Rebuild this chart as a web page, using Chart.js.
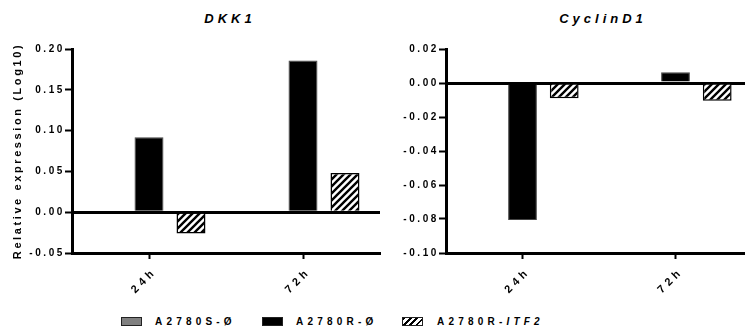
<!DOCTYPE html>
<html>
<head>
<meta charset="utf-8">
<script src="https://cdn.jsdelivr.net/npm/chart.js@4"></script>
<style>
html,body{margin:0;padding:0;width:745px;height:332px;overflow:hidden;background:#fff;}
body{position:relative;font-family:Arial,"Liberation Sans",sans-serif;}
canvas{position:absolute;top:0;}
.ttl{position:absolute;top:12px;width:200px;margin-left:-100px;text-align:center;font:italic bold 13px Arial,"Liberation Sans",sans-serif;line-height:13px;letter-spacing:4px;padding-left:4px;color:#000;}
.lg{position:absolute;top:317px;height:9px;width:21px;box-sizing:border-box;border:1px solid #222;}
.lt{position:absolute;top:316px;font:bold 10px Arial,"Liberation Sans",sans-serif;line-height:12px;letter-spacing:4.2px;color:#000;white-space:nowrap;}
</style>
</head>
<body>
<div class="ttl" id="t1" style="left:226px"></div>
<div class="ttl" id="t2" style="left:599px"></div>
<canvas id="c1" width="390" height="300" style="left:0px;width:390px;height:300px"></canvas>
<canvas id="c2" width="386" height="300" style="left:376px;width:386px;height:300px"></canvas>
<div id="legend"></div>
<script>
// ---- data ----
const categories = ['24h', '72h'];
const seriesNames = ['A2780S-Ø', 'A2780R-Ø', 'A2780R-ITF2'];
const panelTitles = ['DKK1', 'CyclinD1'];
const yAxisTitle = 'Relative expression (Log10)';

const dkk1_S    = [0, 0];
const dkk1_R    = [0.092, 0.186];
const dkk1_ITF2 = [-0.026, 0.048];

const ccnd1_S    = [0, 0];
const ccnd1_R    = [-0.0806, 0.0063];
const ccnd1_ITF2 = [-0.009, -0.0104];

const dkk1Ticks  = [-0.05, 0.00, 0.05, 0.10, 0.15, 0.20];
const ccnd1Ticks = [-0.10, -0.08, -0.06, -0.04, -0.02, 0.00, 0.02];

// ---- styles ----
const FONT = 'Arial, "Liberation Sans", sans-serif';
function hatchPattern() {
  const s = 7;
  const c = document.createElement('canvas');
  c.width = s; c.height = s;
  const g = c.getContext('2d');
  g.fillStyle = '#fff'; g.fillRect(0, 0, s, s);
  g.strokeStyle = '#000'; g.lineWidth = 2.4;
  g.beginPath();
  g.moveTo(-2, s + 2); g.lineTo(s + 2, -2);
  g.moveTo(-2, 2); g.lineTo(2, -2);
  g.moveTo(s - 2, s + 2); g.lineTo(s + 2, s - 2);
  g.stroke();
  return g.createPattern(c, 'repeat');
}
const spacingPlugin = {
  id: 'spacing',
  beforeUpdate(ch) { ch.ctx.letterSpacing = '2.6px'; },
  beforeLayout(ch) { ch.ctx.letterSpacing = '2.6px'; },
  afterLayout(ch) {
    const sx = ch.scales.x;
    if (sx && !sx._wideLabels) {
      const orig = sx.drawLabels;
      sx.drawLabels = function (area) {
        const ctx = this.ctx;
        const prev = ctx.letterSpacing;
        ctx.letterSpacing = '4px';
        orig.call(this, area);
        ctx.letterSpacing = prev;
      };
      sx._wideLabels = true;
    }
  },
  beforeDraw(ch) { ch.ctx.letterSpacing = '2.6px'; }
};

function makeChart(id, S, R, I, ticks, yWidth, showYTitle) {
  const hatch = hatchPattern();
  return new Chart(document.getElementById(id), {
    type: 'bar',
    data: {
      labels: categories,
      datasets: [
        { label: seriesNames[0], data: S, backgroundColor: '#808080', borderColor: '#333', borderWidth: 0 },
        { label: seriesNames[1], data: R, backgroundColor: '#000', borderColor: '#444', borderWidth: 1 },
        { label: seriesNames[2], data: I, backgroundColor: hatch, borderColor: '#000', borderWidth: 1.5 }
      ]
    },
    options: {
      responsive: false,
      animation: false,
      events: [],
      categoryPercentage: 0.818,
      barPercentage: 0.69,
      layout: { padding: { top: 49, right: 10, left: 0, bottom: 0 } },
      plugins: { legend: { display: false }, title: { display: false }, tooltip: { enabled: false } },
      scales: {
        x: {
          offset: true,
          afterFit(s) { s.height = 47; },
          border: { display: true, color: '#000', width: 3 },
          grid: { offset: false, drawOnChartArea: false, color: '#000', tickColor: '#000', tickLength: 6, tickWidth: 2 },
          ticks: { color: '#000', font: { family: FONT, size: 11, weight: 'bold' }, minRotation: 45, maxRotation: 45, padding: 6, labelOffset: 6 }
        },
        y: {
          min: ticks[0],
          max: ticks[ticks.length - 1],
          afterBuildTicks(s) { s.ticks = ticks.map(v => ({ value: v })); },
          afterFit(s) { s.width = yWidth; },
          border: { display: true, color: '#000', width: 3 },
          grid: {
            color: c => (c.tick && Math.abs(c.tick.value) < 1e-9) ? '#000' : 'rgba(0,0,0,0)',
            lineWidth: c => (c.tick && Math.abs(c.tick.value) < 1e-9) ? 3 : 1,
            tickColor: '#000', tickLength: 7, tickWidth: 2
          },
          ticks: {
            color: '#000', padding: 0,
            font: { family: FONT, size: 10, weight: 'bold' },
            callback: v => (Math.abs(v) < 1e-9 ? 0 : v).toFixed(2)
          },
          title: {
            display: showYTitle, text: yAxisTitle, color: '#000',
            font: { family: FONT, size: 11, weight: 'bold' },
            padding: { top: 11, bottom: 0 }
          }
        }
      }
    },
    plugins: [spacingPlugin]
  });
}

makeChart('c1', dkk1_S, dkk1_R, dkk1_ITF2, dkk1Ticks, 72, true);
makeChart('c2', ccnd1_S, ccnd1_R, ccnd1_ITF2, ccnd1Ticks, 70, false);

document.getElementById('t1').textContent = panelTitles[0];
document.getElementById('t2').textContent = panelTitles[1];

// legend
const lgBoxX = [121, 262, 402];
const lgTextX = [155, 296, 437];
const lgFill = ['#808080', '#000', 'repeating-linear-gradient(135deg,#000 0 2px,#fff 2px 4.5px)'];
const legend = document.getElementById('legend');
seriesNames.forEach((n, i) => {
  const b = document.createElement('div');
  b.className = 'lg';
  b.style.left = lgBoxX[i] + 'px';
  b.style.background = lgFill[i];
  legend.appendChild(b);
  const t = document.createElement('div');
  t.className = 'lt';
  t.style.left = lgTextX[i] + 'px';
  const parts = n.split('-');
  if (parts[1] === 'ITF2') {
    t.append(parts[0] + '-');
    const it = document.createElement('i');
    it.textContent = parts[1];
    t.appendChild(it);
  } else {
    t.textContent = n;
  }
  legend.appendChild(t);
});
</script>
</body>
</html>
